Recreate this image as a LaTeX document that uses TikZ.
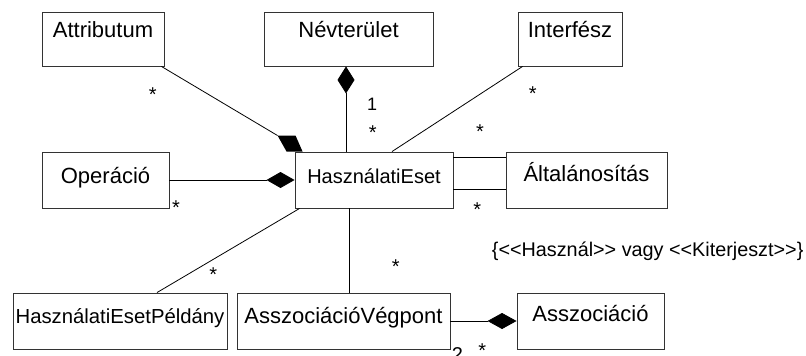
\documentclass[tikz,border=0pt]{standalone}
\usepackage{fontspec}
\setmainfont{Liberation Sans}
\usetikzlibrary{arrows.meta,calc}

\begin{document}
\begin{tikzpicture}[x=1pt,y=-1pt,
  box/.style={draw=black!80, line width=0.9pt, rectangle, inner sep=0pt,
              minimum height=56pt, font=\fontsize{22}{26}\selectfont},
  link/.style={draw=black, line width=0.8pt},
  comp/.style 2 args={link, -{Diamond[length=#1pt,width=#2pt]}},
  mult/.style={font=\fontsize{20}{24}\selectfont, inner sep=0pt, anchor=base},
]
\useasboundingbox (0,0) rectangle (806,356);

% classes
\node[box, minimum width=122pt, minimum height=54pt, text height=8.5pt, text depth=11.5pt] (attr) at (103,39) {Attributum};
\node[box, minimum width=169pt, minimum height=54pt, text height=8.5pt, text depth=11.5pt] (nevt) at (348.5,39) {Névterület};
\node[box, minimum width=104pt, minimum height=54pt, text height=8.5pt, text depth=11.5pt] (intf) at (570,39) {Interfész};
\node[box, minimum width=127pt, text height=13pt, text depth=7pt] (oper) at (105.5,180) {Operáció};
\node[box, minimum width=158pt, text height=13.3pt, text depth=6.7pt, font=\fontsize{20}{24}\selectfont] (use) at (374,180) {HasználatiEset};
\node[box, minimum width=161pt, text height=11pt, text depth=9pt] (gen) at (586.5,180) {Általánosítás};
\node[box, minimum width=214pt, text height=12.8pt, text depth=7.2pt, font=\fontsize{20.3}{24}\selectfont] (inst) at (120,321) {HasználatiEsetPéldány};
\node[box, minimum width=213pt, text height=12.8pt, text depth=7.2pt] (aend) at (343.5,321) {AsszociációVégpont};
\node[box, minimum width=147pt, text height=10.5pt, text depth=9.5pt] (assoc) at (590.5,321) {Asszociáció};

% Attributum -- HasználatiEset, composition diamond at the corner
\coordinate (atip) at ($(use.north west)+(-17,-16)$);
\draw[link] ([xshift=-3pt]attr.south east) -- (atip);
\fill (atip) -- ++(18,0) -- ++(7,16) -- ++(-16,0) -- cycle;

% Névterület -- HasználatiEset
\draw[comp={27}{17}] ([xshift=-28pt]use.north) -- ([xshift=-28pt]use.north |- nevt.south);

% Interfész -- HasználatiEset
\draw[link] ([xshift=5pt]intf.south west) -- ([xshift=18pt]use.north);

% Operáció -- HasználatiEset
\draw[comp={28}{16}] (oper.east) -- (use.west);

% HasználatiEset -- Általánosítás (two links)
\draw[link] ([yshift=22.3pt]use.east) -- ([yshift=22.3pt]use.east -| gen.west);
\draw[link] ([yshift=-9.3pt]use.east) -- ([yshift=-9.3pt]use.east -| gen.west);

% HasználatiEset -- HasználatiEsetPéldány
\draw[link] ([xshift=5pt]use.south west) -- ([xshift=37pt]inst.north);

% HasználatiEset -- AsszociációVégpont
\draw[link] ([xshift=-25pt]use.south) -- ([xshift=-25pt]use.south |- aend.north);

% AsszociációVégpont -- Asszociáció
\draw[comp={29}{16}] (aend.east) -- (assoc.west);

% multiplicities
\node[mult] (m1) at (152.7,101.4) {*};
\node[mult] (m2) at (532.7,100.4) {*};
\node[mult] (m3) at (372.7,139.4) {*};
\node[mult] (m4) at (480,138.9) {*};
\node[mult] (m5) at (176,214.1) {*};
\node[mult] (m6) at (477.3,216.4) {*};
\node[mult] (m7) at (213.3,281.4) {*};
\node[mult] (m8) at (395.7,273.7) {*};
\node[mult] (m9) at (482.3,357.7) {*};
\node[mult, font=\fontsize{18}{22}\selectfont] (one) at (372.2,110) {1};
\node[mult] (two) at (457.5,361) {2};

% constraint
\node[inner sep=0pt, anchor=base west, font=\fontsize{19.8}{24}\selectfont] (cons) at (491.7,256.7)
  {\{<{}<Használ>{}> vagy <{}<Kiterjeszt>{}>\}};
\end{tikzpicture}
\end{document}
